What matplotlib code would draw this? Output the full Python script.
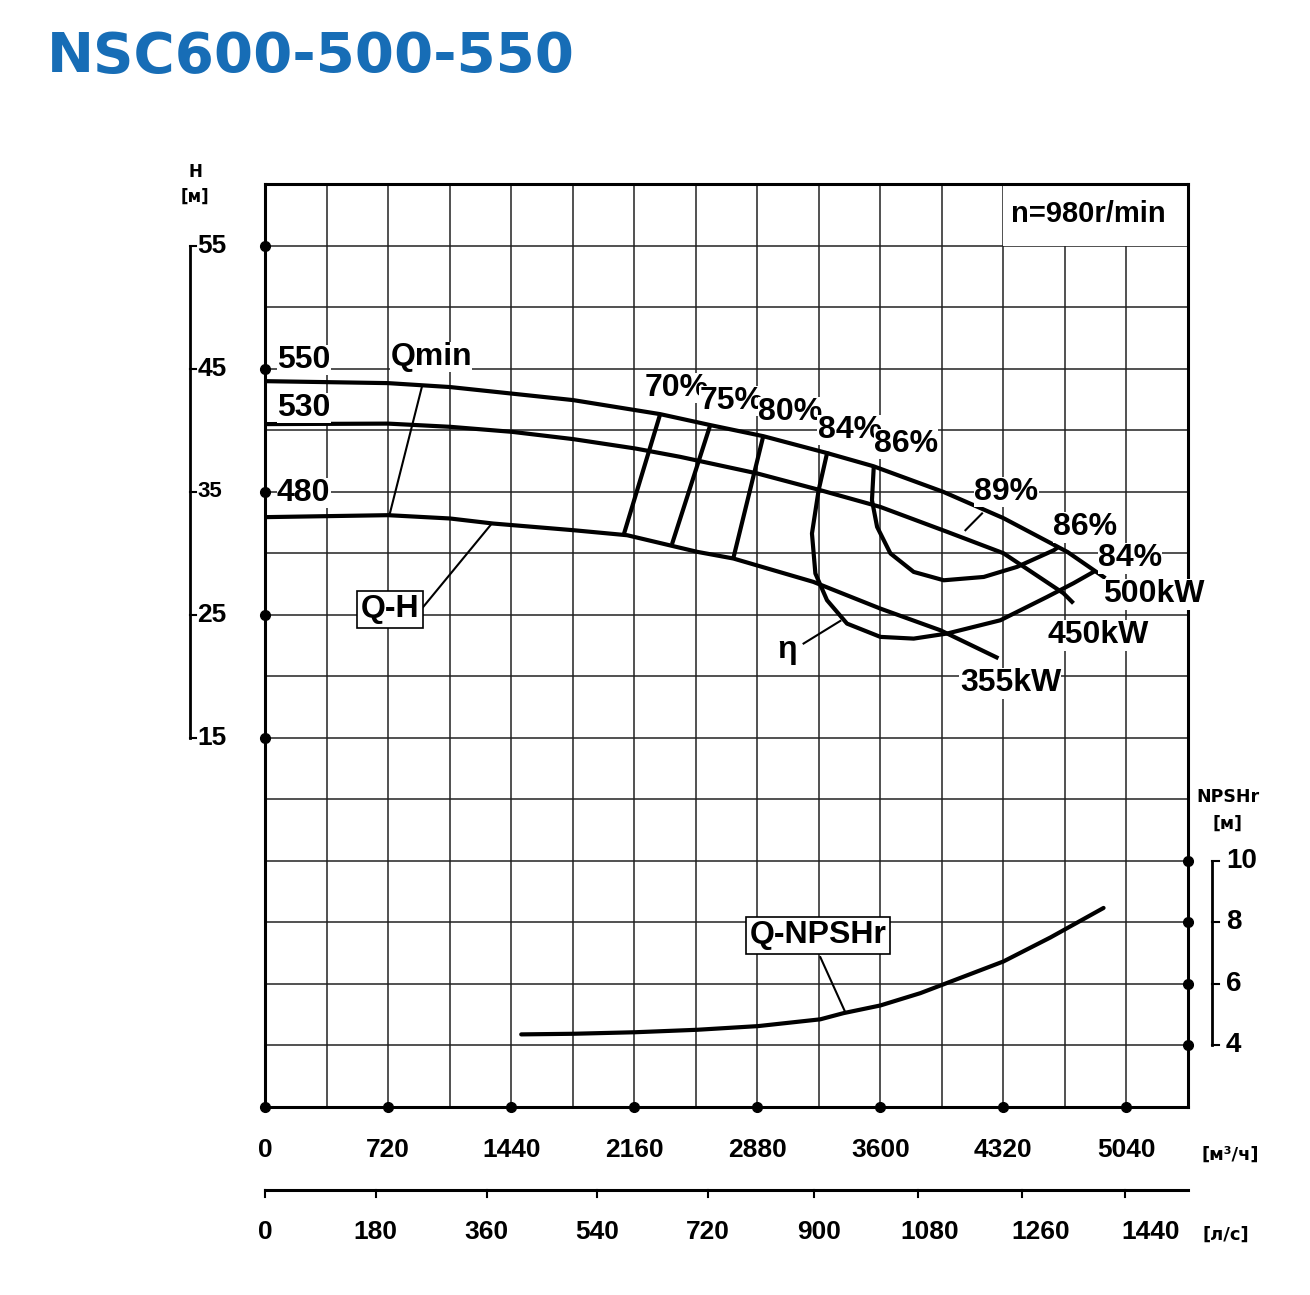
import numpy as np
import matplotlib
matplotlib.use("Agg")
import matplotlib.pyplot as plt
from matplotlib.patches import Rectangle
import matplotlib.transforms as mtransforms

NARROW = ['Liberation Sans', 'DejaVu Sans']

# ---- data (Q in m3/h, H in m, NPSHr in m) ----
q_550 = [0, 720, 1083, 1803, 2312, 2605, 2915, 3290, 3559, 3969, 4320, 4695, 4917]
h_550 = [43.98, 43.82, 43.5, 42.44, 41.30, 40.41, 39.51, 38.13, 37.07, 34.98, 32.85, 30.10, 27.97]

q_530 = [0, 720, 1083, 1446, 1803, 2166, 2429, 2880, 3249, 3600, 3992, 4320, 4671, 4730]
h_530 = [40.49, 40.53, 40.27, 39.86, 39.27, 38.51, 37.83, 36.48, 35.12, 33.76, 31.73, 30.0, 26.75, 25.93]

q_480 = [0, 720, 1083, 1335, 1803, 2119, 2529, 2740, 3208, 3600, 3951, 4291]
h_480 = [32.93, 33.09, 32.82, 32.41, 31.87, 31.46, 30.11, 29.57, 27.67, 25.50, 23.74, 21.46]

# iso-efficiency straight lines (top on 550, bottom on 480)
eff_lines = {
    "70%": ([2312, 2096], [41.30, 31.38]),
    "75%": ([2605, 2381], [40.41, 30.73]),
    "80%": ([2915, 2741], [39.51, 29.65]),
}

q_eta84 = [3288, 3239, 3200, 3220, 3288, 3405, 3600, 3795, 3990, 4302, 4576, 4730, 4847]
h_eta84 = [38.11, 35.12, 31.60, 28.35, 26.18, 24.28, 23.20, 23.06, 23.47, 24.55, 26.45, 27.56, 28.48]

q_eta86 = [3561, 3551, 3581, 3659, 3795, 3971, 4205, 4400, 4615, 4636]
h_eta86 = [36.89, 34.31, 32.14, 29.98, 28.48, 27.80, 28.07, 28.89, 30.24, 30.45]

q_npsh = [1499, 1803, 2166, 2529, 2886, 3249, 3384, 3600, 3834, 4320, 4595, 4906]
npsh = [4.36, 4.38, 4.43, 4.51, 4.63, 4.85, 5.05, 5.30, 5.70, 6.73, 7.51, 8.47]

q_ticks = [0, 720, 1440, 2160, 2880, 3600, 4320, 5040]
ls_labels = [0, 180, 360, 540, 720, 900, 1080, 1260, 1440]
ls_tick_pos = [0, 648, 1296, 1944, 2592, 3214, 3821, 4429, 5034]
h_ticks = [15, 25, 35, 45, 55]
npsh_ticks = [4, 6, 8, 10]

fig = plt.figure(figsize=(13.1, 12.95), dpi=100)
fig.patch.set_facecolor('white')
ax = fig.add_axes([265 / 1310, 1 - 1107 / 1295, 923 / 1310, 923 / 1295])
ax.set_xlim(0, 5400)
ax.set_ylim(-15, 60)
ax.set_xticks(np.arange(0, 5401, 360))
ax.set_yticks(np.arange(-15, 61, 5))
ax.grid(True, color='#222222', lw=1.1)
ax.tick_params(length=0, labelbottom=False, labelleft=False)
for s in ax.spines.values():
    s.set_linewidth(2.2)
    s.set_zorder(4)

ax2 = ax.twinx()
ax2.set_ylim(2, 32)
ax2.set_yticks([])
ax2.axis('off')

# white cell behind the speed note
ax.add_patch(Rectangle((4320, 55), 1080, 5, facecolor='white', edgecolor='none', zorder=1.8))
ax.text(4818, 57.6, 'n=980r/min', fontsize=21, fontweight='bold', family=NARROW,
        ha='center', va='center', zorder=5)

lw = 3.0
for q, h in [(q_550, h_550), (q_530, h_530), (q_480, h_480)]:
    ax.plot(q, h, color='black', lw=lw, solid_capstyle='butt', zorder=3)
for name, (q, h) in eff_lines.items():
    ax.plot(q, h, color='black', lw=lw, solid_capstyle='butt', zorder=3)
ax.plot(q_eta84, h_eta84, color='black', lw=lw, solid_joinstyle='round', zorder=3)
ax.plot(q_eta86, h_eta86, color='black', lw=lw, solid_joinstyle='round', zorder=3)
ax2.plot(q_npsh, npsh, color='black', lw=lw, solid_capstyle='round', zorder=3)

# leader lines
ax.plot([917, 728], [43.47, 33.09], color='black', lw=1.5, zorder=3)
ax.plot([1327, 923], [32.41, 25.59], color='black', lw=1.5, zorder=3)
ax.plot([4098, 4195], [31.87, 33.23], color='black', lw=1.5, zorder=3)
ax.plot([3151, 3366], [22.66, 24.50], color='black', lw=1.5, zorder=3)
ax2.plot([3249, 3395], [6.87, 5.08], color='black', lw=1.5, zorder=3)

wb = dict(facecolor='white', edgecolor='none', pad=0.3)
lab = dict(fontsize=23, fontweight='bold', family=NARROW, va='center', zorder=5, bbox=wb)
ax.text(70, 45.69, '550', ha='left', **lab)
ax.text(70, 41.79, '530', ha='left', **lab)
ax.text(70, 34.88, '480', ha='left', **lab)
ax.text(972, 45.93, 'Qmin', ha='center', **lab)
ax.text(2410, 43.41, '70%', ha='center', **lab)
ax.text(2730, 42.36, '75%', ha='center', **lab)
ax.text(3075, 41.46, '80%', ha='center', **lab)
ax.text(3420, 40.0, '84%', ha='center', **lab)
ax.text(3750, 38.86, '86%', ha='center', **lab)
ax.text(4338, 34.96, '89%', ha='center', **lab)
ax.text(4800, 32.11, '86%', ha='center', **lab)
ax.text(5060, 29.59, '84%', ha='center', **lab)
ax.text(5198, 26.67, '500kW', ha='center', **lab)
ax.text(4876, 23.33, '450kW', ha='center', **lab)
ax.text(4361, 19.43, '355kW', ha='center', **lab)
ax.text(3056, 22.11, 'η', ha='center', **lab)

boxed = dict(fontsize=23, fontweight='bold', family=NARROW, va='center', ha='center', zorder=5,
             bbox=dict(facecolor='white', edgecolor='black', lw=1.2, pad=2.5))
ax.text(732, 25.45, 'Q-H', **boxed)
ax.text(3237, -1.06, 'Q-NPSHr', **boxed)

# dots on the frame
ax.plot([0] * len(h_ticks), h_ticks, 'o', color='black', ms=7, clip_on=False, zorder=6)
ax.plot(q_ticks, [-15] * len(q_ticks), 'o', color='black', ms=7, clip_on=False, zorder=6)
ax2.plot([5400] * len(npsh_ticks), npsh_ticks, 'o', color='black', ms=7, clip_on=False, zorder=6)

# left head scale
tl = mtransforms.blended_transform_factory(ax.transAxes, ax.transData)
ax.plot([-0.0813, -0.0813], [15, 55], color='black', lw=2, transform=tl, clip_on=False)
for v in h_ticks:
    ax.plot([-0.0813, -0.0745], [v, v], color='black', lw=1.5, transform=tl, clip_on=False)
    ax.text(-0.073, v, str(v), transform=tl, fontsize=19 if v != 35 else 16, fontweight='bold',
            family=NARROW, ha='left', va='center')
ax.text(-0.0758, 1.013, 'H', transform=ax.transAxes, fontsize=12, fontweight='bold',
        ha='center', va='center')
ax.text(-0.0758, 0.986, '[м]', transform=ax.transAxes, fontsize=12, fontweight='bold',
        ha='center', va='center')

# right NPSHr scale
tr = mtransforms.blended_transform_factory(ax2.transAxes, ax2.transData)
ax2.plot([1.026, 1.026], [4, 10], color='black', lw=2, transform=tr, clip_on=False)
for v in npsh_ticks:
    ax2.plot([1.026, 1.034], [v, v], color='black', lw=1.5, transform=tr, clip_on=False)
    ax2.text(1.041, v, str(v), transform=tr, fontsize=20, fontweight='bold',
             family=NARROW, ha='left', va='center')
ax2.text(1.043, 12.07, 'NPSHr', transform=tr, fontsize=12.5, fontweight='bold',
         ha='center', va='center')
ax2.text(1.043, 11.22, '[м]', transform=tr, fontsize=12.5, fontweight='bold',
         ha='center', va='center')

# bottom scales
tb = mtransforms.blended_transform_factory(ax.transData, ax.transAxes)
for v in q_ticks:
    ax.text(v, -0.0466, str(v), transform=tb, fontsize=19, fontweight='bold',
            family=NARROW, ha='center', va='center')
ax.text(1.0455, -0.0515, '[м³/ч]', transform=ax.transAxes, fontsize=13, fontweight='bold',
        ha='center', va='center')

ax.plot([0, 5400], [-0.0899, -0.0899], color='black', lw=2.2, transform=tb, clip_on=False)
for p in ls_tick_pos:
    ax.plot([p, p], [-0.0899, -0.0975], color='black', lw=1.5, transform=tb, clip_on=False)
for v in ls_labels:
    ax.text(v * 3.6, -0.1354, str(v), transform=tb, fontsize=19, fontweight='bold',
            family=NARROW, ha='center', va='center')
ax.text(1.0415, -0.138, '[л/с]', transform=ax.transAxes, fontsize=13, fontweight='bold',
        ha='center', va='center')

fig.text(47 / 1310, 1 - 57 / 1295, 'NSC600-500-550', fontsize=40.5, fontweight='bold',
         color='#176db6', family='DejaVu Sans', ha='left', va='center')

fig.savefig('out.png', dpi=100, facecolor='white')
